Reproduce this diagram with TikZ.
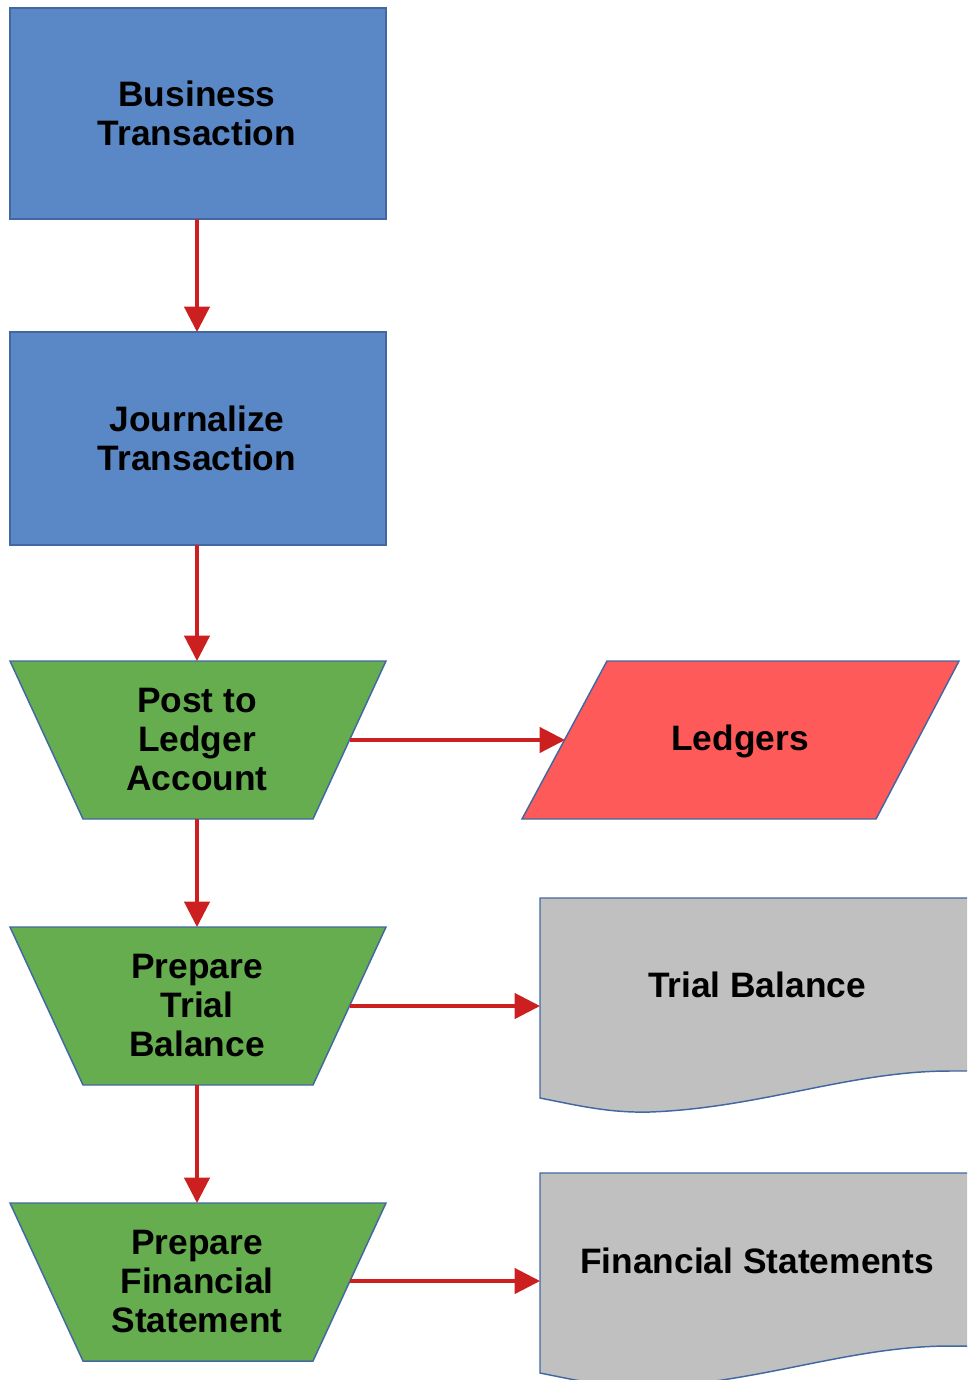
\documentclass[tikz,border=0pt]{standalone}
\usepackage{fontspec}
\setmainfont{Liberation Sans}
\usetikzlibrary{arrows.meta}
\definecolor{boxblue}{HTML}{5A88C6}
\definecolor{stepgreen}{HTML}{65AD4F}
\definecolor{ledgerred}{HTML}{FF5A5A}
\definecolor{docgrey}{HTML}{C0C0C0}
\definecolor{edgeblue}{HTML}{4268A2}
\definecolor{flowred}{HTML}{CC1F1F}

\tikzset{
  shapeedge/.style={draw=edgeblue, line width=1.1pt, line join=miter},
  txt/.style={font=\bfseries\fontsize{26.5}{29.25}\selectfont, align=center, text=black, inner sep=0pt},
  flow/.style={draw=flowred, line width=2.4pt, -{Triangle[width=19pt,length=19pt]}},
}

\begin{document}
\begin{tikzpicture}[x=0.75pt,y=-0.75pt]
\useasboundingbox (0,0) rectangle (967,1380);
\clip (0,0) rectangle (967,1380);

% process boxes
\filldraw[shapeedge, fill=boxblue] (10,8) rectangle (386,219);
\node[txt] (bt) at (197,113) {Business\\Transaction};
\filldraw[shapeedge, fill=boxblue] (10,332) rectangle (386,545);
\node[txt] (jt) at (197,438) {Journalize\\Transaction};

% manual operation trapezoids
\filldraw[shapeedge, fill=stepgreen] (10,661) -- (386,661) -- (313,819) -- (83,819) -- cycle;
\node[txt] (pl) at (197,740) {Post to\\Ledger\\Account};
\filldraw[shapeedge, fill=stepgreen] (10,927) -- (386,927) -- (313,1085) -- (83,1085) -- cycle;
\node[txt] (tb) at (197,1006) {Prepare\\Trial\\Balance};
\filldraw[shapeedge, fill=stepgreen] (10,1203) -- (386,1203) -- (313,1361) -- (83,1361) -- cycle;
\node[txt] (fs) at (197,1282) {Prepare\\Financial\\Statement};

% data parallelogram
\filldraw[shapeedge, fill=ledgerred] (607,661) -- (959,661) -- (876,819) -- (522,819) -- cycle;
\node[txt] (ld) at (740,741) {Ledgers};

% document shapes
\filldraw[shapeedge, fill=docgrey] (540,1098) -- (540,898) -- (980,898) -- (980,1071) -- (950,1071)
  .. controls (850,1071) and (760,1108) .. (650,1112)
  .. controls (610,1113) and (580,1106) .. (540,1098) -- cycle;
\node[txt] (tbd) at (757,985) {Trial Balance};
\filldraw[shapeedge, fill=docgrey] (540,1373) -- (540,1173) -- (980,1173) -- (980,1346) -- (950,1346)
  .. controls (850,1346) and (760,1383) .. (650,1387)
  .. controls (610,1388) and (580,1381) .. (540,1373) -- cycle;
\node[txt] (fsd) at (757,1261) {Financial Statements};

% connection points on the shape outlines
\coordinate (bt-s) at (197,219);
\coordinate (jt-n) at (197,332);
\coordinate (jt-s) at (197,545);
\coordinate (pl-n) at (197,661);
\coordinate (pl-s) at (197,819);
\coordinate (pl-e) at (349.5,740);
\coordinate (tb-n) at (197,927);
\coordinate (tb-s) at (197,1085);
\coordinate (tb-e) at (349.5,1006);
\coordinate (fs-n) at (197,1203);
\coordinate (fs-e) at (349.5,1281);
\coordinate (ld-w) at (565,740);
\coordinate (tbd-w) at (540,1006);
\coordinate (fsd-w) at (540,1281);

% flow connectors
\draw[flow] (bt-s) -- (jt-n);
\draw[flow] (jt-s) -- (pl-n);
\draw[flow] (pl-s) -- (tb-n);
\draw[flow] (tb-s) -- (fs-n);
\draw[flow] (pl-e) -- (ld-w);
\draw[flow] (tb-e) -- (tbd-w);
\draw[flow] (fs-e) -- (fsd-w);
\end{tikzpicture}
\end{document}
